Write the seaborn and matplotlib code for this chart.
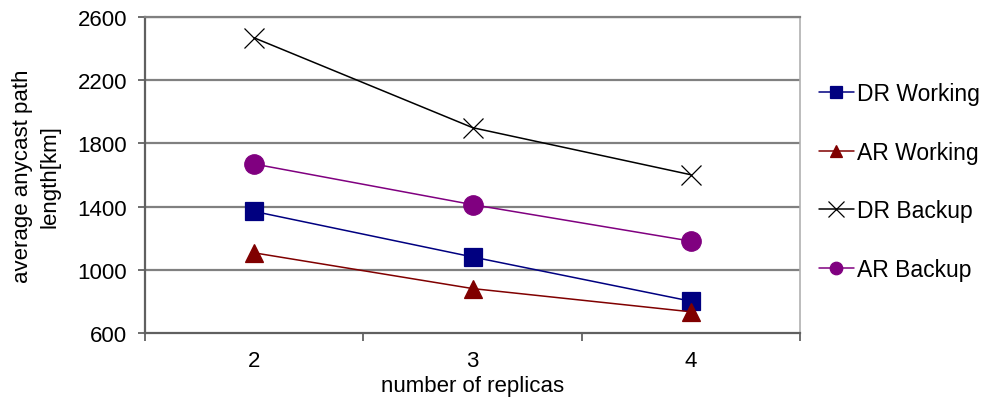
import pandas as pd
import numpy as np
import seaborn as sns
import matplotlib.pyplot as plt
from matplotlib.lines import Line2D

replicas = ['2', '3', '4']
dr_working = [1370, 1082, 802]
ar_working = [1108, 882, 735]
dr_backup = [2468, 1900, 1602]
ar_backup = [1670, 1413, 1182]

series = ['DR Working', 'AR Working', 'DR Backup', 'AR Backup']
colors = {'DR Working': '#000080', 'AR Working': '#800000',
          'DR Backup': '#000000', 'AR Backup': '#800080'}
marks = {'DR Working': 's', 'AR Working': '^', 'DR Backup': 'x', 'AR Backup': 'o'}
msize = {'DR Working': 13, 'AR Working': 13, 'DR Backup': 15, 'AR Backup': 14}

data = {'DR Working': dr_working, 'AR Working': ar_working,
        'DR Backup': dr_backup, 'AR Backup': ar_backup}

sns.set_style('white')
plt.rcParams['font.family'] = ['Liberation Sans', 'DejaVu Sans']
plt.rcParams['text.color'] = 'black'
plt.rcParams['axes.labelcolor'] = 'black'

fig = plt.figure(figsize=(9.94, 4.1), dpi=100)
ax = fig.add_axes([0.146, 0.185, 0.659, 0.771])

ax.grid(False)
for y in range(1000, 2601, 400):
    ax.axhline(y, color='#808080', lw=1.6, zorder=0)

# seaborn can't mix filled and line markers in one call, so one call per series
for name in series:
    d = pd.DataFrame({'x': [1, 2, 3], 'value': data[name]})
    sns.lineplot(data=d, x='x', y='value', color=colors[name], marker=marks[name],
                 markersize=msize[name], markeredgewidth=0.9,
                 markeredgecolor=colors[name], lw=1.1, ax=ax)

ax.set_xlim(0.5, 3.5)
ax.set_ylim(600, 2600)
ax.set_xticks([0.5, 1.5, 2.5, 3.5])
ax.set_xticklabels([])
ax.set_xticks([1, 2, 3], minor=True)
ax.set_xticklabels(replicas, minor=True)
ax.tick_params(axis='x', which='minor', length=0, pad=12, labelsize=16, labelcolor='black')
ax.tick_params(axis='x', which='major', direction='out', length=6, width=1.2, color='#555555', bottom=True)
ax.set_yticks(range(600, 2601, 400))
ax.tick_params(axis='y', direction='out', length=5, width=1.2, color='#555555',
               labelsize=16, pad=8, left=True, labelcolor='black')

for s in ['left', 'bottom']:
    ax.spines[s].set_color('#606060')
    ax.spines[s].set_linewidth(1.6)
ax.spines['top'].set_color('#808080')
ax.spines['top'].set_linewidth(1.6)
ax.spines['right'].set_color('#b0b0b0')
ax.spines['right'].set_linewidth(1.2)

ax.set_xlabel('number of replicas', fontsize=16, labelpad=3)
ax.set_ylabel('average anycast path\nlength[km]', fontsize=16, labelpad=12, linespacing=1.45)

handles = [Line2D([], [], color=colors[n], marker=marks[n], lw=1.1,
                  markersize=9 if n != 'DR Backup' else 11,
                  markeredgewidth=0.9, markeredgecolor=colors[n]) for n in series]
ax.legend(handles, series, loc='center left', bbox_to_anchor=(1.015, 0.48),
          frameon=False, fontsize=16.5, handlelength=1.5, handletextpad=0.15,
          labelspacing=1.55, borderaxespad=0)

fig.savefig('out.png', dpi=100)
